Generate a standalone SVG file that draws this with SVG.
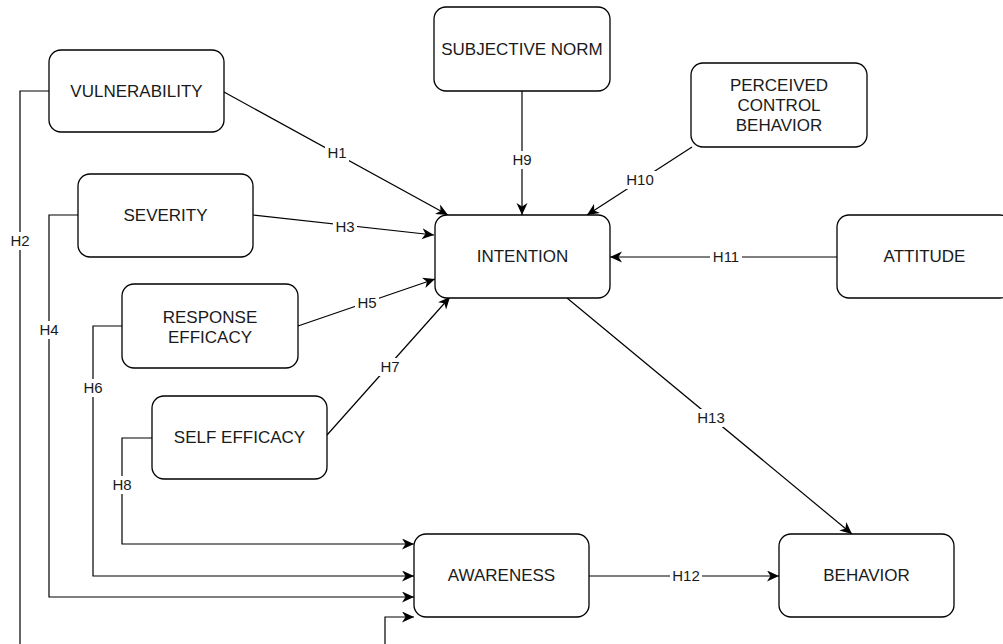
<svg xmlns="http://www.w3.org/2000/svg" width="1003" height="644" viewBox="0 0 1003 644">
<style>
.node rect{fill:#fff;stroke:#000;stroke-width:1.3}
.node text{font-family:"Liberation Sans",Arial,sans-serif;font-size:17px;fill:#1a1a1a;text-anchor:middle}
.edges path{fill:none;stroke:#000;stroke-width:1.2;marker-end:url(#arr)}
.lbl rect{fill:#fff}
.lbl text{font-family:"Liberation Sans",Arial,sans-serif;font-size:15px;fill:#1a1a1a;text-anchor:middle}
</style>
<defs>
<marker id="arr" markerUnits="userSpaceOnUse" markerWidth="14" markerHeight="12" refX="12" refY="5.5" orient="auto">
<path d="M0,0 L12,5.5 L0,11 L3.5,5.5 Z" fill="#000"/>
</marker>
</defs>
<rect width="1003" height="644" fill="#fff"/>
<g class="edges" id="connectors">
<path d="M224,92 L448,215"/>
<path d="M49,91 H20 V660 H385 V617 H414"/>
<path d="M253,215 L434,235"/>
<path d="M78,215 H49 V597 H414"/>
<path d="M298,326 L435,279"/>
<path d="M122,326 H93 V576 H414"/>
<path d="M327,435 L450,297"/>
<path d="M152,438 H122 V544 H414"/>
<path d="M522,91 V215"/>
<path d="M692,147 L587,215"/>
<path d="M837,257 H610"/>
<path d="M589,576 H779"/>
<path d="M567,298 L852,534"/>
</g>
<g class="lbl" id="labels">
<rect x="325" y="144" width="24" height="18"/><text x="337" y="158">H1</text>
<rect x="8" y="232" width="24" height="18"/><text x="20" y="246">H2</text>
<rect x="333" y="218" width="24" height="18"/><text x="345" y="232">H3</text>
<rect x="37" y="321" width="24" height="18"/><text x="49" y="335">H4</text>
<rect x="355" y="294" width="24" height="18"/><text x="367" y="308">H5</text>
<rect x="81" y="379" width="24" height="18"/><text x="93" y="393">H6</text>
<rect x="378" y="358" width="24" height="18"/><text x="390" y="372">H7</text>
<rect x="110" y="476" width="24" height="18"/><text x="122" y="490">H8</text>
<rect x="510" y="151" width="24" height="18"/><text x="522" y="165">H9</text>
<rect x="624" y="171" width="32" height="18"/><text x="640" y="185">H10</text>
<rect x="710" y="248" width="32" height="18"/><text x="726" y="262">H11</text>
<rect x="670" y="567" width="32" height="18"/><text x="686" y="581">H12</text>
<rect x="695" y="409" width="32" height="18"/><text x="711" y="423">H13</text>
</g>
<g class="node" id="vulnerability"><rect x="49" y="50" width="175" height="82" rx="12"/><text x="136.5" y="97">VULNERABILITY</text></g>
<g class="node" id="subjective-norm"><rect x="434" y="7" width="176" height="84" rx="12"/><text x="522" y="55">SUBJECTIVE NORM</text></g>
<g class="node" id="perceived-control"><rect x="691" y="63" width="176" height="84" rx="12"/><text x="779" y="91">PERCEIVED</text><text x="779" y="111">CONTROL</text><text x="779" y="131">BEHAVIOR</text></g>
<g class="node" id="severity"><rect x="78" y="174" width="175" height="83" rx="12"/><text x="165.5" y="221">SEVERITY</text></g>
<g class="node" id="intention"><rect x="435" y="215" width="175" height="83" rx="12"/><text x="522.5" y="262">INTENTION</text></g>
<g class="node" id="attitude"><rect x="837" y="215" width="175" height="83" rx="12"/><text x="924.5" y="262">ATTITUDE</text></g>
<g class="node" id="response-efficacy"><rect x="122" y="284" width="176" height="84" rx="12"/><text x="210" y="323">RESPONSE</text><text x="210" y="343">EFFICACY</text></g>
<g class="node" id="self-efficacy"><rect x="152" y="396" width="175" height="83" rx="12"/><text x="239.5" y="443">SELF EFFICACY</text></g>
<g class="node" id="awareness"><rect x="414" y="534" width="175" height="83" rx="12"/><text x="501.5" y="581">AWARENESS</text></g>
<g class="node" id="behavior"><rect x="779" y="534" width="175" height="83" rx="12"/><text x="866.5" y="581">BEHAVIOR</text></g>
</svg>
